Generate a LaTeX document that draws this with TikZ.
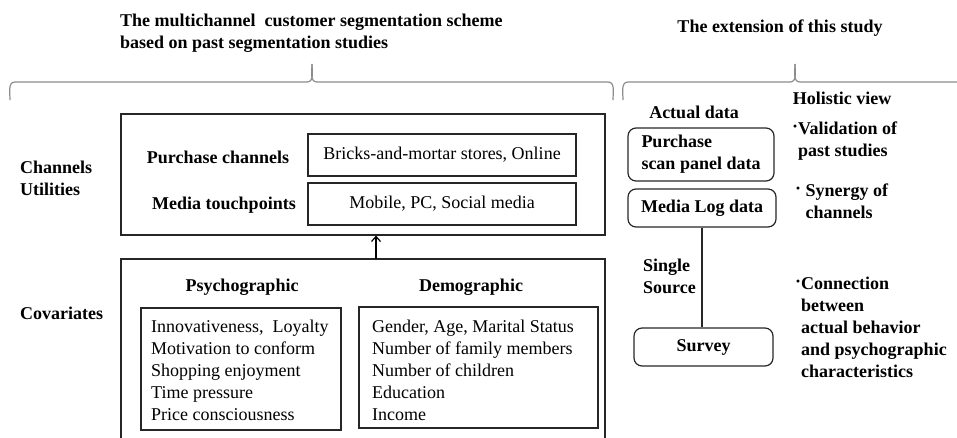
\documentclass[tikz,border=0pt]{standalone}
\usepackage{fontspec}
\setmainfont{Liberation Serif}
\usetikzlibrary{arrows.meta}

\newcommand{\hdot}{\raisebox{2.5pt}{·}}

\begin{document}
\begin{tikzpicture}[x=1pt,y=-1pt,
        font=\fontsize{18}{22}\selectfont,
        box/.style={draw=black!85,line width=1.2pt,inner sep=0pt},
        rbox/.style={box,rounded corners=8pt},
        lbl/.style={inner sep=0pt,font=\fontsize{18}{22}\selectfont\bfseries},
        txt/.style={inner sep=0pt,align=left},
        brace/.style={draw=black!45,line width=1.2pt}]
        \useasboundingbox (0,0) rectangle (957,437);
        \clip (0,0) rectangle (957,437);

        % titles and braces
        \node[lbl,align=left,anchor=west] (schemeTitle) at (120,33) {The multichannel\ \ customer segmentation scheme\\based on past segmentation studies};
        \node[lbl] (extTitle) at (780,28) {The extension of this study};
        \draw[brace] (10,100) to[out=90,in=180] (15,82) -- (307,82) to[out=0,in=-90] (312,64);
        \draw[brace] (312,64) to[out=-90,in=180] (317,82) -- (608,82) to[out=0,in=90] (613,100);
        \draw[brace] (623,100) to[out=90,in=180] (628,82) -- (790,82) to[out=0,in=-90] (795,64);
        \draw[brace] (795,64) to[out=-90,in=180] (800,82) -- (975,82);

        % channels utilities
        \node[lbl,align=left,anchor=west] (chanLabel) at (20,178) {Channels\\Utilities};
        \node[box,minimum width=484,minimum height=121] (chanBox) at (363,174.5) {};
        \node[lbl] (purchLabel) at (218,157) {Purchase channels};
        \node[lbl] (mediaLabel) at (224,205) {Media touchpoints};
        \node[box,minimum width=268,minimum height=42] (purchBox) at (442,155) {Bricks-and-mortar stores, Online};
        \node[box,minimum width=268,minimum height=42] (mediaBox) at (442,204) {Mobile, PC, Social media};

        % covariates
        \node[lbl,anchor=west] (covLabel) at (20,313) {Covariates};
        \node[box,minimum width=484,minimum height=201] (covBox) at (363,359.5) {};
        \node[lbl] (psychLabel) at (242,287) {Psychographic};
        \node[lbl] (demoLabel) at (471,287) {Demographic};
        \node[box,minimum width=200,minimum height=122] (psychBox) at (241,369) {};
        \node[box,minimum width=239,minimum height=121] (demoBox) at (478.5,367.5) {};
        \node[txt,anchor=west] (psychText) at (151,370) {Innovativeness,\ \ Loyalty\\Motivation to conform\\Shopping enjoyment\\Time pressure\\Price consciousness};
        \node[txt,anchor=west] (demoText) at (372,370) {Gender, Age, Marital Status\\Number of family members\\Number of children\\Education\\Income};

        \coordinate (arrowFoot) at (376,259);
        \draw[-{Straight Barb[length=5pt,width=9pt]},line width=1.2pt] (arrowFoot) -- (arrowFoot |- chanBox.south);

        % extension of this study
        \node[lbl] (actualLabel) at (694,112) {Actual data};
        \node[rbox,lbl,align=left,minimum width=146,minimum height=53] (scanBox) at (701,154.5) {Purchase\\scan panel data};
        \node[rbox,lbl,minimum width=148,minimum height=38] (logBox) at (702,208) {Media Log data};
        \node[rbox,lbl,minimum width=139,minimum height=38] (surveyBox) at (703.5,347) {Survey};
        \node[lbl,align=left,anchor=west] (singleLabel) at (643,276) {Single\\Source};
        \draw[line width=1.2pt,black!85] (logBox.south) -- (logBox.south |- surveyBox.north);

        \node[lbl] (holisticLabel) at (842,98) {Holistic view};
        \node[lbl,align=left,anchor=north west] (validText) at (792,122) {\hdot Validation of\\\hphantom{·}past studies};
        \node[lbl,align=left,anchor=north west] (synergyText) at (795,184) {\hdot\ Synergy of\\\hphantom{· }channels};
        \node[lbl,align=left,anchor=north west] (connText) at (795,277) {\hdot Connection\\\hphantom{·}between\\\hphantom{·}actual behavior\\\hphantom{·}and psychographic\\\hphantom{·}characteristics};
\end{tikzpicture}
\end{document}
